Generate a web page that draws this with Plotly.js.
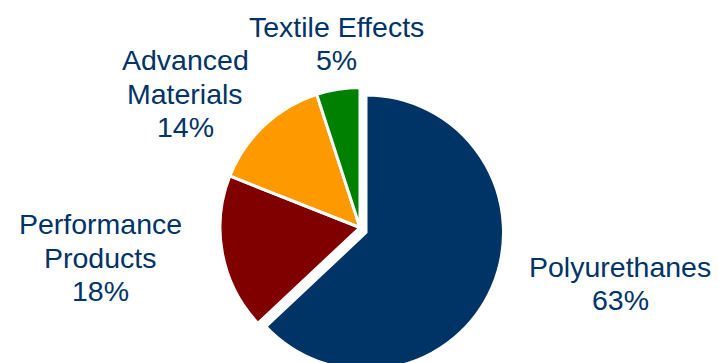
<!DOCTYPE html>
<html>
<head>
<meta charset="utf-8">
<script src="https://cdn.plot.ly/plotly-3.0.1.min.js"></script>
<style>
  html, body { margin: 0; padding: 0; overflow: hidden; background: #ffffff; }
  #chart { width: 719px; height: 400px; }
</style>
</head>
<body>
<div id="chart"></div>
<script>
// ---- data ----
const segments = ["Polyurethanes", "Performance Products", "Advanced Materials", "Textile Effects"];
const shares = [63, 18, 14, 5];
const labelLines = [["Polyurethanes"], ["Performance", "Products"], ["Advanced", "Materials"], ["Textile Effects"]];
const sliceColors = ["#003366", "#800000", "#FF9900", "#008000"];

// ---- layout geometry (pixels) ----
const W = 719, H = 400;
const FS = 28.5, LINE = 33.5;
const CLEAR = "rgba(0,0,0,0)";
function dom(cx, cy, r) {
  return { x: [(cx - r) / W, (cx + r) / W], y: [1 - (cy + r) / H, 1 - (cy - r) / H] };
}
// main pie (other slices) and the exploded Polyurethanes slice
const mainGeo = { cx: 360, cy: 227.5, r: 140 };
const pullGeo = { cx: 366, cy: 232.5, r: 137.5 };
// label anchors: centre x, first baseline y
const labelPos = [[620, 276.7], [100, 234.3], [185, 70], [336, 36.7]];

const common = {
  type: "pie",
  labels: segments,
  values: shares,
  sort: false,
  direction: "clockwise",
  rotation: 0,
  textinfo: "none",
  hoverinfo: "none",
  showlegend: false
};

const traceRest = Object.assign({}, common, {
  domain: dom(mainGeo.cx, mainGeo.cy, mainGeo.r),
  marker: {
    colors: sliceColors.map((c, i) => i === 0 ? CLEAR : c),
    line: { color: sliceColors.map((c, i) => i === 0 ? CLEAR : "#ffffff"), width: 3 }
  }
});
const traceMain = Object.assign({}, common, {
  domain: dom(pullGeo.cx, pullGeo.cy, pullGeo.r),
  marker: {
    colors: sliceColors.map((c, i) => i === 0 ? c : CLEAR),
    line: { color: sliceColors.map((c, i) => i === 0 ? "#ffffff" : CLEAR), width: 3 }
  }
});

const annotations = [];
segments.forEach((s, i) => {
  const lines = labelLines[i].concat([shares[i] + "%"]);
  lines.forEach((t, k) => {
    const base = labelPos[i][1] + k * LINE;
    annotations.push({
      text: t,
      xref: "paper", yref: "paper",
      x: labelPos[i][0] / W,
      y: 1 - (base - 0.3465 * FS) / H,
      xanchor: "center", yanchor: "middle",
      showarrow: false,
      font: { family: "Liberation Sans, Arial, sans-serif", size: FS, color: "#003366" }
    });
  });
});

const layout = {
  width: W, height: H,
  margin: { l: 0, r: 0, t: 0, b: 0 },
  paper_bgcolor: "#ffffff",
  plot_bgcolor: "#ffffff",
  annotations: annotations
};

Plotly.newPlot("chart", [traceRest, traceMain], layout, { staticPlot: true, displayModeBar: false });
</script>
</body>
</html>
